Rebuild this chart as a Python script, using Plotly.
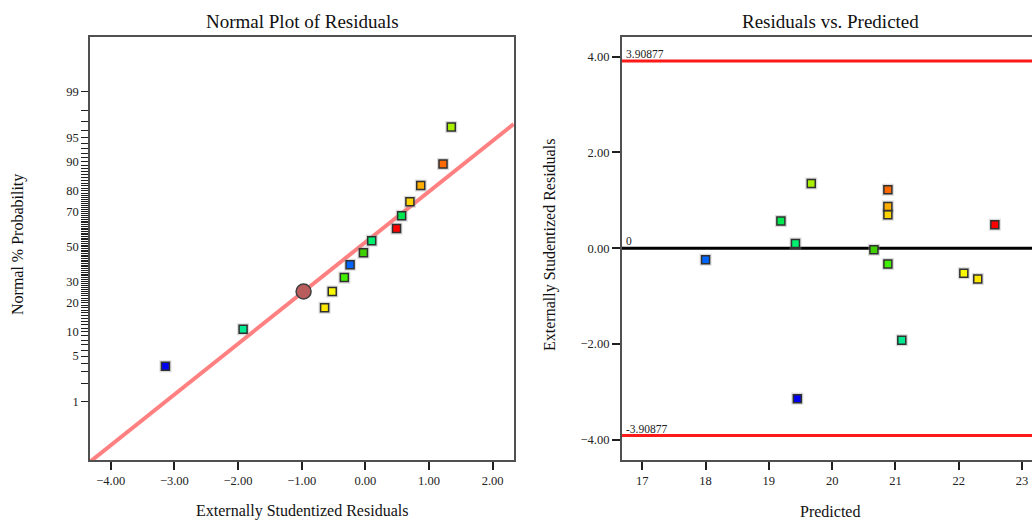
import plotly.graph_objects as go
from statistics import NormalDist

# ---------------- data ----------------
residuals = [-3.14, -1.92, -0.64, -0.52, -0.33, -0.24, -0.03, 0.10, 0.49, 0.57, 0.70, 0.87, 1.22, 1.35]
normal_pct = [3.6, 10.7, 17.9, 25.0, 32.1, 39.3, 46.4, 53.6, 60.7, 67.9, 75.0, 82.1, 89.3, 96.4]
predicted = [19.45, 21.10, 22.30, 22.08, 20.88, 18.00, 20.66, 19.42, 22.57, 19.19, 20.88, 20.88, 20.88, 19.67]
point_colors = ["#0000f0", "#00e890", "#ffe800", "#f8f800", "#40f000", "#0064ff", "#40d000",
                "#00f070", "#ff0000", "#00e850", "#ffd400", "#ffae00", "#ff6a00", "#a8f000"]

line_x = [-4.33, 2.33]
line_pct = [0.06, 96.74]
highlight_x = [-0.97]
highlight_pct = [25.0]

prob_major = [1, 5, 10, 20, 30, 50, 70, 80, 90, 95, 99]
prob_all = list(range(1, 100))

limit = 3.90877
x_ticks_left = [-4, -3, -2, -1, 0, 1, 2]
x_ticks_right = [17, 18, 19, 20, 21, 22, 23]
y_ticks_right = [-4, -2, 0, 2, 4]

nd = NormalDist()


def probit(p):
    return nd.inv_cdf(p / 100.0)


FONT = "Liberation Serif"
W, H = 1032, 520

# plot-area geometry (pixels)
L_x0, L_x1 = 90, 514
R_x0, R_x1 = 621.7, 1032
Y_top, Y_bot = 37, 460
x_left_range = [-4.325, 2.335]
y_left_range = [-3.208, 3.153]

fig = go.Figure()

# ---- left: normal plot ----
fig.add_trace(go.Scatter(
    x=line_x, y=[probit(p) for p in line_pct], mode="lines",
    line=dict(color="#ff8080", width=4), xaxis="x", yaxis="y", hoverinfo="skip"))

fig.add_trace(go.Scatter(
    x=residuals, y=[probit(p) for p in normal_pct], mode="markers",
    marker=dict(symbol="square", size=12, color="rgba(150,150,150,0.35)", line=dict(width=0)),
    xaxis="x", yaxis="y", hoverinfo="skip"))
fig.add_trace(go.Scatter(
    x=residuals, y=[probit(p) for p in normal_pct], mode="markers",
    marker=dict(symbol="square", size=8, color=point_colors, line=dict(color="#303030", width=1.5)),
    xaxis="x", yaxis="y"))

fig.add_trace(go.Scatter(
    x=highlight_x, y=[probit(p) for p in highlight_pct], mode="markers",
    marker=dict(symbol="circle", size=15, color="#b85c5c", line=dict(color="#404040", width=1.5)),
    xaxis="x", yaxis="y"))

# ---- right: residuals vs predicted ----
xr = [16.675, 16.675 + (R_x1 - R_x0) / 63.3]
for yv, col in [(limit, "#ff1a1a"), (-limit, "#ff1a1a"), (0, "#000000")]:
    fig.add_trace(go.Scatter(
        x=xr, y=[yv, yv], mode="lines", line=dict(color=col, width=3),
        xaxis="x2", yaxis="y2", hoverinfo="skip"))

fig.add_trace(go.Scatter(
    x=predicted, y=residuals, mode="markers",
    marker=dict(symbol="square", size=12, color="rgba(150,150,150,0.35)", line=dict(width=0)),
    xaxis="x2", yaxis="y2", hoverinfo="skip"))
fig.add_trace(go.Scatter(
    x=predicted, y=residuals, mode="markers",
    marker=dict(symbol="square", size=8, color=point_colors, line=dict(color="#303030", width=1.5)),
    xaxis="x2", yaxis="y2"))

axis_common = dict(
    showgrid=False, zeroline=False, showline=True, linecolor="#505050", linewidth=1.5,
    ticks="outside", ticklen=8, tickwidth=1.5, tickcolor="#202020",
    tickfont=dict(family=FONT, size=12.5, color="#222222"),
)

y_dom = [(H - Y_bot) / H, (H - Y_top) / H]

left_y_axis = dict(axis_common)
left_y_axis.update(ticklen=7, tickwidth=1.2)

fig.update_layout(
    width=W, height=H,
    margin=dict(l=0, r=0, t=0, b=0),
    paper_bgcolor="white", plot_bgcolor="white",
    showlegend=False,
    font=dict(family=FONT, color="#111111"),
    xaxis=dict(
        domain=[L_x0 / W, L_x1 / W], range=x_left_range, anchor="y",
        tickmode="array", tickvals=x_ticks_left, tickformat=".2f", mirror=True, **axis_common),
    yaxis=dict(
        domain=y_dom, range=y_left_range, anchor="x",
        tickmode="array",
        tickvals=[probit(p) for p in prob_all],
        ticktext=[str(p) if p in prob_major else "" for p in prob_all],
        mirror=True, **left_y_axis),
    xaxis2=dict(
        domain=[R_x0 / W, 1.0], range=xr, anchor="y2",
        tickmode="array", tickvals=x_ticks_right, mirror=True, **axis_common),
    yaxis2=dict(
        domain=y_dom, range=[-4.42, 4.41], anchor="x2",
        tickmode="array", tickvals=y_ticks_right, tickformat=".2f", mirror=False, **axis_common),
    annotations=[
        dict(text="Normal Plot of Residuals", x=(L_x0 + L_x1) / 2 / W, y=1 - 22 / H,
             xref="paper", yref="paper", showarrow=False, xanchor="center", yanchor="middle",
             font=dict(family=FONT, size=19, color="#111111")),
        dict(text="Residuals vs. Predicted", x=830 / W, y=1 - 22 / H,
             xref="paper", yref="paper", showarrow=False, xanchor="center", yanchor="middle",
             font=dict(family=FONT, size=19, color="#111111")),
        dict(text="Externally Studentized Residuals", x=(L_x0 + L_x1) / 2 / W, y=1 - 511 / H,
             xref="paper", yref="paper", showarrow=False, xanchor="center", yanchor="middle",
             font=dict(family=FONT, size=16, color="#111111")),
        dict(text="Predicted", x=830 / W, y=1 - 511 / H,
             xref="paper", yref="paper", showarrow=False, xanchor="center", yanchor="middle",
             font=dict(family=FONT, size=16, color="#111111")),
        dict(text="Normal % Probability", x=18 / W, y=1 - 245 / H, textangle=-90,
             xref="paper", yref="paper", showarrow=False, xanchor="center", yanchor="middle",
             font=dict(family=FONT, size=16, color="#111111")),
        dict(text="Externally Studentized Residuals", x=550 / W, y=1 - 245 / H, textangle=-90,
             xref="paper", yref="paper", showarrow=False, xanchor="center", yanchor="middle",
             font=dict(family=FONT, size=16, color="#111111")),
        dict(text=f"{limit:.5f}", x=xr[0], y=limit, xref="x2", yref="y2", showarrow=False,
             xanchor="left", yanchor="bottom", xshift=2, yshift=-1,
             font=dict(family=FONT, size=11.5, color="#222222")),
        dict(text=f"{-limit:.5f}", x=xr[0], y=-limit, xref="x2", yref="y2", showarrow=False,
             xanchor="left", yanchor="bottom", xshift=2, yshift=-1,
             font=dict(family=FONT, size=11.5, color="#222222")),
        dict(text="0", x=xr[0], y=0, xref="x2", yref="y2", showarrow=False,
             xanchor="left", yanchor="bottom", xshift=2, yshift=-1,
             font=dict(family=FONT, size=11.5, color="#222222")),
    ],
)

fig.write_html("out.html")
